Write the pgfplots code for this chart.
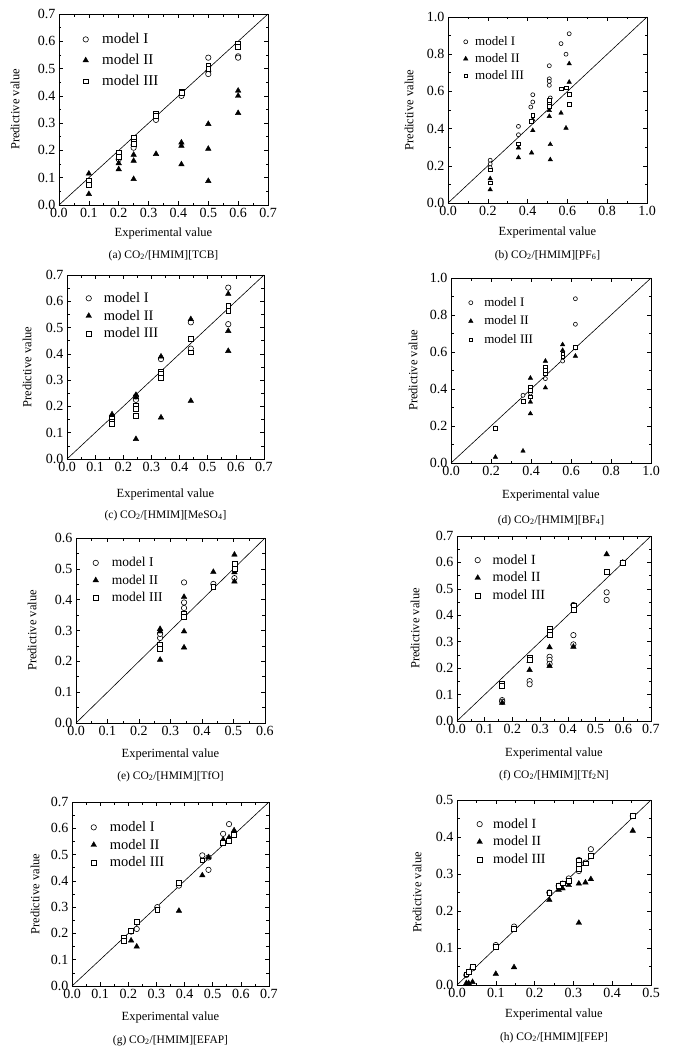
\documentclass[border=0pt]{standalone}
\usepackage{fontspec}
\setmainfont{Liberation Serif}
\usepackage{pgfplots}
\pgfplotsset{compat=1.18}
\newcommand\lab{\fontsize{12.5}{13}\selectfont}
\newcommand\capf{\fontsize{11.5}{12}\selectfont}
\newcommand{\labels}[4]{%
 \node[rotate=90, font=\lab] at ([xshift=-#1pt]rel axis cs:0,0.5) {Predictive value};
 \node[anchor=base, font=\lab] at ([yshift=-#2pt]rel axis cs:0.5,0) {Experimental value};
 \node[anchor=base, font=\capf] at ([yshift=-#3pt]rel axis cs:0.5,0) {#4};
}
\pgfplotsset{
 lgap/.initial=16pt,
 limg/.style={legend image code/.code={\path (0pt,0pt) (\pgfkeysvalueof{/pgfplots/lgap}+3.5pt,0pt); \draw[##1] plot coordinates {(5pt,0pt)};}},
 panel/.style={scale only axis, clip=false, tick align=inside, minor tick num=1,
   major tick length=4pt, minor tick length=2.5pt, xmin=0, ymin=0,
   axis line style={line width=0.7pt}, every tick/.style={black, line width=0.6pt},
   tick label style={font=\fontsize{14}{14}\selectfont},
   /pgf/number format/fixed, /pgf/number format/fixed zerofill,
   /pgf/number format/precision=1, /pgf/number format/assume math mode=true,
   legend style={draw=none, fill=none, inner sep=0pt, outer sep=0pt,
     anchor=north west, nodes={inner sep=1.5pt}, row sep=4pt},
   legend cell align=left,
 },
 mI/.style={only marks, limg, mark=*, mark size=#1, mark options={fill=white, draw=black, line width=0.6pt}},
 mII/.style={only marks, limg, mark=triangle*, mark size=#1, mark options={fill=black, draw=black}},
 mIII/.style={only marks, limg, mark=square*, mark size=#1, mark options={fill=white, draw=black, line width=0.6pt}},
 diag/.style={black, line width=0.6pt, forget plot},
}
\begin{document}
\begin{tikzpicture}
\useasboundingbox (0,0) rectangle (674pt,-1054pt);
% (a)
\begin{axis}[panel, at={(59pt,-205pt)}, anchor=south west, width=209pt, height=191pt,
  xmax=0.7, ymax=0.7, xtick={0,0.1,...,0.7}, ytick={0,0.1,...,0.7}, lgap=16.2pt,
  legend style={at={(0.103,0.906)}, font=\fontsize{15}{15}\selectfont, row sep=6pt}]
\addplot[diag] coordinates {(0,0)(0.7,0.7)};
\addplot[mI=2.7pt] coordinates {(0.1,0.085)(0.2,0.168)(0.25,0.24)(0.25,0.22)(0.25,0.21)(0.325,0.312)(0.41,0.40)(0.5,0.54)(0.5,0.49)(0.5,0.48)(0.6,0.545)(0.6,0.54)};
\addplot[mII=3.2pt] coordinates {(0.1,0.115)(0.1,0.04)(0.2,0.153)(0.2,0.131)(0.25,0.184)(0.25,0.162)(0.25,0.095)(0.325,0.187)(0.41,0.229)(0.41,0.217)(0.41,0.149)(0.5,0.297)(0.5,0.206)(0.5,0.088)(0.6,0.419)(0.6,0.40)(0.6,0.337)};
\addplot[mIII=2.4pt] coordinates {(0.1,0.09)(0.1,0.075)(0.2,0.19)(0.2,0.178)(0.25,0.245)(0.25,0.233)(0.25,0.225)(0.325,0.335)(0.325,0.327)(0.41,0.415)(0.41,0.41)(0.5,0.51)(0.5,0.50)(0.6,0.59)(0.6,0.58)};
\legend{model I, model II, model III}
\labels{44}{31}{53}{(a) CO\textsubscript{2}/[HMIM][TCB]}
\end{axis}
% (b)
\begin{axis}[panel, at={(448pt,-203pt)}, anchor=south west, width=199pt, height=186pt,
  xmax=1, ymax=1, xtick={0,0.2,...,1}, ytick={0,0.2,...,1}, lgap=9.3pt,
  legend style={at={(0.063,0.903)}, font=\fontsize{13}{13}\selectfont, row sep=3.5pt}]
\addplot[diag] coordinates {(0,0)(1,1)};
\addplot[mI=2pt] coordinates {(0.212,0.23)(0.212,0.21)(0.212,0.19)(0.354,0.412)(0.354,0.367)(0.426,0.582)(0.426,0.543)(0.416,0.516)(0.509,0.738)(0.509,0.668)(0.509,0.654)(0.509,0.633)(0.514,0.565)(0.509,0.55)(0.568,0.857)(0.593,0.80)(0.609,0.91)};
\addplot[mII=2.6pt] coordinates {(0.212,0.131)(0.212,0.072)(0.354,0.297)(0.354,0.244)(0.42,0.27)(0.426,0.39)(0.426,0.448)(0.509,0.498)(0.509,0.466)(0.514,0.315)(0.514,0.233)(0.568,0.484)(0.593,0.403)(0.609,0.749)(0.609,0.65)};
\addplot[mIII=1.8pt] coordinates {(0.212,0.179)(0.212,0.108)(0.354,0.319)(0.426,0.471)(0.42,0.439)(0.509,0.552)(0.509,0.53)(0.509,0.52)(0.568,0.615)(0.593,0.62)(0.609,0.584)(0.609,0.53)};
\legend{model I, model II, model III}
\labels{39}{32}{55}{(b) CO\textsubscript{2}/[HMIM][PF\textsubscript{6}]}
\end{axis}
% (c)
\begin{axis}[panel, at={(67pt,-459pt)}, anchor=south west, width=197pt, height=184pt,
  xmax=0.7, ymax=0.7, xtick={0,0.1,...,0.7}, ytick={0,0.1,...,0.7}, lgap=15pt,
  legend style={at={(0.084,0.913)}, font=\fontsize{14.5}{15}\selectfont, row sep=3pt}]
\addplot[diag] coordinates {(0,0)(0.7,0.7)};
\addplot[mI=2.7pt] coordinates {(0.16,0.16)(0.16,0.15)(0.245,0.225)(0.245,0.238)(0.334,0.38)(0.44,0.52)(0.44,0.42)(0.573,0.652)(0.573,0.513)};
\addplot[mII=3.2pt] coordinates {(0.16,0.17)(0.245,0.244)(0.245,0.235)(0.245,0.076)(0.334,0.39)(0.334,0.158)(0.44,0.532)(0.44,0.221)(0.573,0.628)(0.573,0.487)(0.573,0.411)};
\addplot[mIII=2.4pt] coordinates {(0.16,0.153)(0.16,0.143)(0.16,0.135)(0.245,0.204)(0.245,0.19)(0.245,0.165)(0.334,0.333)(0.334,0.323)(0.334,0.31)(0.44,0.457)(0.44,0.406)(0.573,0.584)(0.573,0.563)};
\legend{model I, model II, model III}
\labels{40}{38}{59}{(c) CO\textsubscript{2}/[HMIM][MeSO\textsubscript{4}]}
\end{axis}
% (d)
\begin{axis}[panel, at={(451pt,-463pt)}, anchor=south west, width=200pt, height=185pt,
  xmax=1, ymax=1, xtick={0,0.2,...,1}, ytick={0,0.2,...,1}, lgap=13.3pt,
  legend style={at={(0.073,0.903)}, font=\fontsize{13}{13}\selectfont, row sep=5pt}]
\addplot[diag] coordinates {(0,0)(1,1)};
\addplot[mI=2pt] coordinates {(0.222,0.189)(0.36,0.366)(0.397,0.378)(0.472,0.456)(0.558,0.551)(0.622,0.888)(0.622,0.75)(0.622,0.622)};
\addplot[mII=2.6pt] coordinates {(0.222,0.032)(0.36,0.065)(0.397,0.459)(0.397,0.33)(0.397,0.267)(0.472,0.551)(0.472,0.407)(0.558,0.64)(0.558,0.609)(0.622,0.622)(0.622,0.578)};
\addplot[mIII=1.8pt] coordinates {(0.222,0.189)(0.36,0.333)(0.397,0.411)(0.397,0.393)(0.397,0.357)(0.472,0.519)(0.472,0.50)(0.472,0.483)(0.558,0.591)(0.558,0.573)(0.622,0.627)};
\legend{model I, model II, model III}
\labels{38}{35}{60}{(d) CO\textsubscript{2}/[HMIM][BF\textsubscript{4}]}
\end{axis}
% (e)
\begin{axis}[panel, at={(76pt,-723pt)}, anchor=south west, width=189pt, height=185pt,
  xmax=0.6, ymax=0.6, xtick={0,0.1,...,0.6}, ytick={0,0.1,...,0.6}, lgap=16pt,
  legend style={at={(0.077,0.903)}, font=\fontsize{13.5}{14}\selectfont, row sep=3.5pt}]
\addplot[diag] coordinates {(0,0)(0.6,0.6)};
\addplot[mI=2.7pt] coordinates {(0.267,0.276)(0.267,0.289)(0.343,0.456)(0.343,0.391)(0.343,0.373)(0.436,0.451)(0.503,0.47)};
\addplot[mII=3.2pt] coordinates {(0.267,0.305)(0.267,0.297)(0.267,0.205)(0.343,0.409)(0.343,0.297)(0.343,0.245)(0.436,0.49)(0.503,0.546)(0.503,0.489)(0.503,0.459)};
\addplot[mIII=2.4pt] coordinates {(0.267,0.253)(0.267,0.24)(0.343,0.353)(0.343,0.344)(0.436,0.441)(0.503,0.516)(0.503,0.50)};
\legend{model I, model II, model III}
\labels{44}{34}{56}{(e) CO\textsubscript{2}/[HMIM][TfO]}
\end{axis}
% (f)
\begin{axis}[panel, at={(457pt,-721pt)}, anchor=south west, width=194pt, height=185pt,
  xmax=0.7, ymax=0.7, xtick={0,0.1,...,0.7}, ytick={0,0.1,...,0.7}, lgap=14.7pt,
  legend style={at={(0.08,0.908)}, font=\fontsize{14}{14}\selectfont, row sep=3.5pt}]
\addplot[diag] coordinates {(0,0)(0.7,0.7)};
\addplot[mI=2.7pt] coordinates {(0.163,0.079)(0.163,0.073)(0.262,0.151)(0.262,0.139)(0.334,0.243)(0.334,0.231)(0.334,0.216)(0.42,0.439)(0.42,0.325)(0.42,0.29)(0.54,0.487)(0.54,0.458)(0.598,0.599)};
\addplot[mII=3.2pt] coordinates {(0.163,0.069)(0.262,0.227)(0.262,0.193)(0.334,0.325)(0.334,0.279)(0.334,0.208)(0.42,0.281)(0.54,0.631)(0.598,0.599)};
\addplot[mIII=2.4pt] coordinates {(0.163,0.142)(0.163,0.132)(0.262,0.24)(0.262,0.233)(0.334,0.35)(0.334,0.338)(0.334,0.325)(0.42,0.435)(0.42,0.422)(0.54,0.565)(0.598,0.599)};
\legend{model I, model II, model III}
\labels{42}{35}{57}{(f) CO\textsubscript{2}/[HMIM][Tf\textsubscript{2}N]}
\end{axis}
% (g)
\begin{axis}[panel, at={(72pt,-986pt)}, anchor=south west, width=197pt, height=184pt,
  xmax=0.7, ymax=0.7, xtick={0,0.1,...,0.7}, ytick={0,0.1,...,0.7}, lgap=16pt,
  legend style={at={(0.084,0.902)}, font=\fontsize{14.5}{15}\selectfont, row sep=3pt}]
\addplot[diag] coordinates {(0,0)(0.7,0.7)};
\addplot[mI=2.7pt] coordinates {(0.185,0.182)(0.21,0.207)(0.23,0.217)(0.303,0.30)(0.38,0.382)(0.463,0.497)(0.485,0.489)(0.485,0.442)(0.537,0.579)(0.558,0.616)(0.576,0.576)};
\addplot[mII=3.2pt] coordinates {(0.21,0.173)(0.23,0.15)(0.38,0.286)(0.463,0.421)(0.485,0.49)(0.537,0.557)(0.558,0.565)(0.576,0.592)};
\addplot[mIII=2.4pt] coordinates {(0.185,0.184)(0.185,0.173)(0.21,0.211)(0.23,0.243)(0.303,0.29)(0.38,0.394)(0.463,0.478)(0.537,0.546)(0.558,0.553)(0.576,0.576)};
\legend{model I, model II, model III}
\labels{37}{34}{57}{(g) CO\textsubscript{2}/[HMIM][EFAP]}
\end{axis}
% (h)
\begin{axis}[panel, at={(457pt,-985pt)}, anchor=south west, width=194pt, height=185pt,
  xmax=0.5, ymax=0.5, xtick={0,0.1,...,0.5}, ytick={0,0.1,...,0.5}, lgap=13.3pt,
  legend style={at={(0.09,0.908)}, font=\fontsize{14}{14}\selectfont, row sep=3.5pt}]
\addplot[diag] coordinates {(0,0)(0.5,0.5)};
\addplot[mI=2.7pt] coordinates {(0.024,0.027)(0.03,0.034)(0.04,0.045)(0.1,0.108)(0.147,0.158)(0.238,0.25)(0.262,0.268)(0.272,0.274)(0.288,0.288)(0.314,0.338)(0.314,0.308)(0.331,0.331)(0.345,0.367)(0.453,0.457)};
\addplot[mII=3.2pt] coordinates {(0.024,0.005)(0.03,0.005)(0.04,0.008)(0.1,0.03)(0.147,0.048)(0.238,0.23)(0.262,0.257)(0.272,0.261)(0.288,0.27)(0.314,0.274)(0.314,0.168)(0.331,0.277)(0.345,0.286)(0.453,0.417)};
\addplot[mIII=2.4pt] coordinates {(0.024,0.029)(0.03,0.036)(0.04,0.05)(0.1,0.104)(0.147,0.151)(0.238,0.25)(0.262,0.268)(0.272,0.275)(0.288,0.281)(0.314,0.335)(0.314,0.326)(0.314,0.315)(0.331,0.329)(0.345,0.349)(0.453,0.457)};
\legend{model I, model II, model III}
\labels{40}{32}{55}{(h) CO\textsubscript{2}/[HMIM][FEP]}
\end{axis}
\end{tikzpicture}
\end{document}
